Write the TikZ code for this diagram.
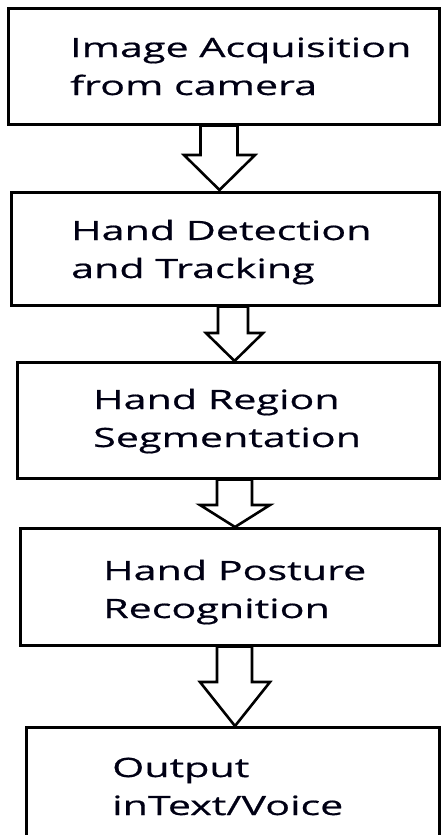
\documentclass[tikz,border=0pt]{standalone}
\usepackage{fontspec}
\newfontfamily\boxfont[FakeStretch=1.55,FakeBold=0.6]{Open Sans}
\tikzset{
  stagebox/.style={draw=black, line width=3pt, fill=white, inner sep=0pt, outer sep=0pt},
  stagetext/.style={anchor=base west, inner sep=0pt, align=left, text=black!92!blue,
    font=\boxfont\fontsize{26.6}{38}\selectfont},
  blockarrow/.style={draw=black, line width=2.6pt, fill=white, line join=miter},
}
\begin{document}
\begin{tikzpicture}[x=1pt, y=-1pt]
\useasboundingbox (0,0) rectangle (442,835);
% boxes
\node[stagebox, minimum width=431pt, minimum height=116pt] (b1) at (223.5,66) {};
\node[stagebox, minimum width=428pt, minimum height=113pt] (b2) at (225,248.5) {};
\node[stagebox, minimum width=422pt, minimum height=116pt] (b3) at (228,420) {};
\node[stagebox, minimum width=419pt, minimum height=117pt] (b4) at (229.5,586.5) {};
\node[stagebox, minimum width=413pt, minimum height=133pt] (b5) at (232.5,793.5) {};
% texts
\node[stagetext] (t1) at (70,95) {Image Acquisition\\from camera};
\node[stagetext] (t2) at (71,278) {Hand Detection\\and Tracking};
\node[stagetext] (t3) at (93,447) {Hand Region\\Segmentation};
\node[stagetext] (t4) at (103,618) {Hand Posture\\Recognition};
\node[stagetext] (t5) at (112,815) {Output\\inText/Voice};
% block arrows
\draw[blockarrow] (200.5,125.5) -- (200.5,155) -- (184,155) -- (219.5,190) -- (255,155) -- (237.5,155) -- (237.5,125.5) -- cycle;
\draw[blockarrow] (218,306.5) -- (218,333) -- (206,333) -- (234.5,361) -- (263,333) -- (248,333) -- (248,306.5) -- cycle;
\draw[blockarrow] (217,479.5) -- (217,505) -- (200,505) -- (235,527) -- (270,505) -- (252,505) -- (252,479.5) -- cycle;
\draw[blockarrow] (217,646.5) -- (217,682) -- (200,682) -- (235,726) -- (270,682) -- (252,682) -- (252,646.5) -- cycle;
\end{tikzpicture}
\end{document}
